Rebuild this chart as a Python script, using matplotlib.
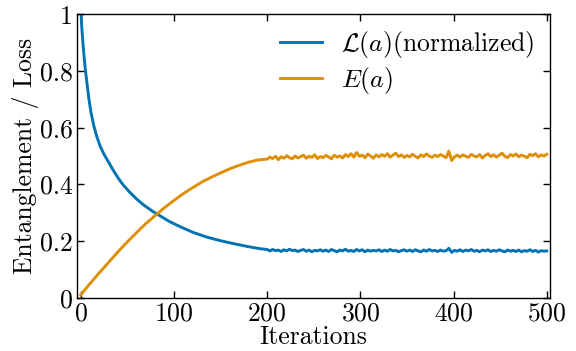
import numpy as np
import matplotlib
matplotlib.use('Agg')
import matplotlib.pyplot as plt
from matplotlib.ticker import FuncFormatter

plt.rcParams['font.family']='cmr10'
plt.rcParams['mathtext.fontset']='cm'
plt.rcParams['axes.formatter.use_mathtext']=True
plt.rcParams['axes.unicode_minus']=False

BLUE='#0173B2'
ORANGE='#DE8F05'
LW=2.1
FONTSIZE=18.5

#
# DATA
#
# smooth phase
loss_iters=[0,1,2.3,3.6,5.1,7,8.8,11,13.7,17,21,25,29,35,40,45,52,60,68,77,85,95,107,120,135,150,165,180,192,200]
loss_smooth=[1.03,0.96,0.90,0.85,0.80,0.75,0.70,0.654,0.611,0.571,0.533,0.506,0.483,0.449,0.423,0.40,0.374,0.348,0.326,0.305,0.289,0.269,0.250,0.231,0.214,0.201,0.190,0.180,0.173,0.170]
ent_iters=[0,10,20,30,40,50,60,70,80,90,100,110,120,130,140,150,160,170,180,190,200]
ent_smooth=[0.01,0.05,0.088,0.125,0.162,0.197,0.23,0.262,0.29,0.318,0.343,0.367,0.388,0.408,0.425,0.44,0.455,0.467,0.478,0.486,0.489]

# noisy phase, every 3 iterations from 200 to 500
noisy_iters=list(range(200,501,3))
loss_noisy=[
    0.169,0.165,0.170,0.166,0.168,0.163,0.169,0.165,0.171,0.166,
    0.168,0.163,0.167,0.170,0.164,0.168,0.162,0.167,0.165,0.169,
    0.164,0.168,0.163,0.170,0.166,0.162,0.168,0.165,0.171,0.164,
    0.167,0.163,0.170,0.165,0.169,0.162,0.168,0.164,0.167,0.165,
    0.169,0.163,0.168,0.164,0.170,0.165,0.167,0.162,0.166,0.169,
    0.164,0.168,0.163,0.169,0.165,0.162,0.168,0.164,0.170,0.165,
    0.167,0.163,0.168,0.164,0.166,0.174,0.160,0.167,0.164,0.169,
    0.163,0.168,0.165,0.170,0.164,0.167,0.162,0.168,0.165,0.169,
    0.163,0.167,0.164,0.169,0.165,0.162,0.168,0.164,0.167,0.163,
    0.168,0.162,0.166,0.164,0.169,0.163,0.167,0.161,0.166,0.164,
    0.165]
ent_noisy=[
    0.489,0.496,0.491,0.499,0.487,0.497,0.492,0.501,0.494,0.490,
    0.500,0.493,0.498,0.503,0.492,0.499,0.495,0.504,0.491,0.498,
    0.494,0.502,0.497,0.490,0.503,0.496,0.500,0.493,0.505,0.498,
    0.508,0.496,0.512,0.499,0.503,0.494,0.507,0.500,0.492,0.504,
    0.497,0.505,0.499,0.508,0.496,0.503,0.510,0.498,0.504,0.495,
    0.502,0.497,0.506,0.499,0.493,0.504,0.498,0.507,0.500,0.495,
    0.503,0.498,0.505,0.500,0.494,0.517,0.484,0.497,0.503,0.496,
    0.504,0.499,0.495,0.506,0.500,0.497,0.505,0.493,0.502,0.508,
    0.498,0.504,0.496,0.503,0.510,0.499,0.494,0.505,0.500,0.507,
    0.497,0.503,0.499,0.494,0.506,0.501,0.508,0.497,0.504,0.500,
    0.506]

LOSS_LABEL=r'$\mathcal{L}(a)$(normalized)'
ENT_LABEL=r'$E(a)$'
X_LABEL='Iterations'
Y_LABEL='Entanglement / Loss'

loss_x=loss_iters+noisy_iters[1:]
loss_y=loss_smooth+loss_noisy[1:]
ent_x=ent_iters+noisy_iters[1:]
ent_y=ent_smooth+ent_noisy[1:]

fig=plt.figure(figsize=(5.76,3.51),dpi=100)
ax=fig.add_axes([0.1337,0.1519,0.8203,0.8074])
ax.plot(loss_x,loss_y,color=BLUE,lw=LW,label=LOSS_LABEL)
ax.plot(ent_x,ent_y,color=ORANGE,lw=LW,label=ENT_LABEL)

ax.set_xlim(-4,503)
ax.set_ylim(0,1)
ax.set_xticks([0,100,200,300,400,500])
ax.set_yticks([0,0.2,0.4,0.6,0.8,1])
ax.yaxis.set_major_formatter(FuncFormatter(lambda v,p: '{:g}'.format(round(v,2))))
ax.tick_params(direction='in',top=True,right=True,length=5,width=1,labelsize=FONTSIZE,pad=3)
for s in ax.spines.values():
    s.set_linewidth(1)

ax.set_xlabel(X_LABEL,fontsize=FONTSIZE,labelpad=0)
ax.set_ylabel(Y_LABEL,fontsize=FONTSIZE,labelpad=1)

ax.legend(loc='upper right',frameon=False,fontsize=FONTSIZE,handlelength=1.65,
    handletextpad=0.75,borderaxespad=0.18,labelspacing=0.2)

fig.savefig('out.png',dpi=100)
